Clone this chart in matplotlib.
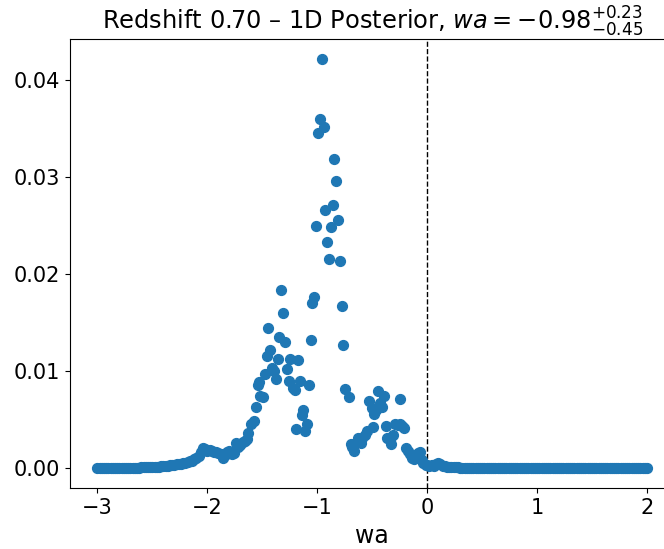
import numpy as np
import matplotlib
matplotlib.use("Agg")
import matplotlib.pyplot as plt

# ---- data ----
left_tail_wa = [-3.00, -2.98, -2.96, -2.94, -2.92, -2.90, -2.88, -2.86, -2.84, -2.82,
                -2.80, -2.78, -2.76, -2.74, -2.72, -2.70, -2.68, -2.66, -2.64, -2.62,
                -2.60, -2.58, -2.56, -2.54, -2.52, -2.50, -2.48, -2.46, -2.44, -2.42,
                -2.40, -2.38, -2.36, -2.34, -2.32, -2.30, -2.28, -2.26, -2.24, -2.22]
left_tail_p = [0.0, 0.0, 0.0, 0.0, 0.0, 0.0, 0.0, 0.0, 0.0, 0.0,
               0.0, 0.0, 0.0, 0.0, 0.0, 0.0, 0.0, 0.0, 0.0, 0.0,
               0.00005, 0.00005, 0.00005, 0.00008, 0.00008, 0.0001, 0.0001, 0.0001, 0.00012, 0.00015,
               0.00018, 0.0002, 0.00022, 0.00025, 0.0003, 0.0003, 0.00035, 0.0004, 0.00045, 0.0005]

shoulder_wa = [-2.20, -2.18, -2.16, -2.14, -2.12, -2.10, -2.08, -2.06, -2.04, -2.02,
               -2.00, -1.98, -1.96, -1.94, -1.92, -1.90, -1.88, -1.86, -1.84, -1.82,
               -1.80, -1.78, -1.76, -1.74, -1.72, -1.70, -1.68, -1.66, -1.64, -1.63]
shoulder_p = [0.0005, 0.0006, 0.0007, 0.0007, 0.0009, 0.0010, 0.0012, 0.0016, 0.0021, 0.0019,
              0.0017, 0.0018, 0.0017, 0.0016, 0.0016, 0.0015, 0.0014, 0.0010, 0.0013, 0.0016,
              0.0017, 0.0014, 0.0015, 0.0026, 0.0022, 0.0024, 0.0027, 0.0028, 0.0030, 0.0036]

core_wa = [-1.603, -1.579, -1.560, -1.542, -1.527, -1.518, -1.496, -1.475, -1.460, -1.445,
           -1.430, -1.409, -1.393, -1.375, -1.360, -1.348, -1.327, -1.309, -1.293, -1.278,
           -1.260, -1.248, -1.224, -1.202, -1.193, -1.175, -1.157, -1.142, -1.127, -1.108,
           -1.093, -1.075, -1.056, -1.045, -1.026, -1.008, -0.995, -0.974, -0.959, -0.941,
           -0.926, -0.911, -0.893, -0.874, -0.859, -0.844, -0.826, -0.808, -0.793, -0.774,
           -0.762, -0.744, -0.712, -0.695, -0.680, -0.665, -0.640, -0.626, -0.605, -0.589,
           -0.570, -0.549, -0.526, -0.504, -0.489, -0.480, -0.465, -0.444, -0.425, -0.407,
           -0.389, -0.373, -0.364, -0.337, -0.325, -0.307, -0.289, -0.270, -0.252, -0.243,
           -0.225, -0.207, -0.190, -0.179, -0.160, -0.139, -0.120, -0.100, -0.085, -0.070,
           -0.050, -0.034, -0.015]
core_p = [0.0045, 0.0048, 0.0063, 0.0085, 0.0088, 0.0074, 0.0073, 0.0097, 0.0115, 0.0144,
          0.0121, 0.0103, 0.0100, 0.0092, 0.0112, 0.0135, 0.0183, 0.0160, 0.0130, 0.0102,
          0.0090, 0.0112, 0.0082, 0.0080, 0.0040, 0.0111, 0.0090, 0.0054, 0.0060, 0.0038,
          0.0045, 0.0085, 0.0132, 0.0170, 0.0176, 0.0249, 0.0345, 0.0360, 0.0421, 0.0351,
          0.0266, 0.0233, 0.0215, 0.0248, 0.0271, 0.0318, 0.0296, 0.0256, 0.0213, 0.0167,
          0.0127, 0.0081, 0.0073, 0.0025, 0.0022, 0.0017, 0.0027, 0.0031, 0.0026, 0.0031,
          0.0034, 0.0038, 0.0069, 0.0062, 0.0042, 0.0056, 0.0060, 0.0079, 0.0067, 0.0063,
          0.0074, 0.0043, 0.0031, 0.0029, 0.0025, 0.0034, 0.0045, 0.0044, 0.0045, 0.0071,
          0.0043, 0.0041, 0.0020, 0.0017, 0.0014, 0.0010, 0.0009, 0.0012, 0.0015, 0.0016,
          0.0008, 0.0005, 0.0003]

right_tail_wa = [0.00, 0.02, 0.04, 0.06, 0.08, 0.10, 0.12, 0.14, 0.16, 0.18,
                 0.20, 0.22, 0.24, 0.26, 0.28, 0.30, 0.32, 0.34, 0.36, 0.38,
                 0.40, 0.42, 0.44, 0.46, 0.48, 0.50, 0.52, 0.54, 0.56, 0.58,
                 0.60, 0.62, 0.64, 0.66, 0.68, 0.70, 0.72, 0.74, 0.76, 0.78,
                 0.80, 0.82, 0.84, 0.86, 0.88, 0.90, 0.92, 0.94, 0.96, 0.98,
                 1.00, 1.02, 1.04, 1.06, 1.08, 1.10, 1.12, 1.14, 1.16, 1.18,
                 1.20, 1.22, 1.24, 1.26, 1.28, 1.30, 1.32, 1.34, 1.36, 1.38,
                 1.40, 1.42, 1.44, 1.46, 1.48, 1.50, 1.52, 1.54, 1.56, 1.58,
                 1.60, 1.62, 1.64, 1.66, 1.68, 1.70, 1.72, 1.74, 1.76, 1.78,
                 1.80, 1.82, 1.84, 1.86, 1.88, 1.90, 1.92, 1.94, 1.96, 1.98, 2.00]
right_tail_p = [0.0003, 0.0002, 0.0003, 0.0002, 0.0004, 0.0005, 0.0004, 0.0002, 0.0002, 0.0001,
                0.0001, 0.0001, 0.00005, 0.00005, 0.00005, 0.0, 0.0, 0.0, 0.0, 0.0,
                0.0, 0.0, 0.0, 0.0, 0.0, 0.0, 0.0, 0.0, 0.0, 0.0,
                0.0, 0.0, 0.0, 0.0, 0.0, 0.0, 0.0, 0.0, 0.0, 0.0,
                0.0, 0.0, 0.0, 0.0, 0.0, 0.0, 0.0, 0.0, 0.0, 0.0,
                0.0, 0.0, 0.0, 0.0, 0.0, 0.0, 0.0, 0.0, 0.0, 0.0,
                0.0, 0.0, 0.0, 0.0, 0.0, 0.0, 0.0, 0.0, 0.0, 0.0,
                0.0, 0.0, 0.0, 0.0, 0.0, 0.0, 0.0, 0.0, 0.0, 0.0,
                0.0, 0.0, 0.0, 0.0, 0.0, 0.0, 0.0, 0.0, 0.0, 0.0,
                0.0, 0.0, 0.0, 0.0, 0.0, 0.0, 0.0, 0.0, 0.0, 0.0, 0.0]

title_text = r'Redshift 0.70 – 1D Posterior, $wa = -0.98^{+0.23}_{-0.45}$'
x_label = 'wa'
reference_wa = 0.0

wa = np.array(left_tail_wa + shoulder_wa + core_wa + right_tail_wa)
post = np.array(left_tail_p + shoulder_p + core_p + right_tail_p)

fig = plt.figure(figsize=(6.64, 5.49), dpi=100)
ax = fig.add_axes([70 / 664, (549 - 488.3) / 549, (674.5 - 70) / 664, (488.3 - 39) / 549])
ax.scatter(wa, post, s=50, color='#1f77b4', zorder=2)
ax.axvline(reference_wa, color='black', linestyle='--', linewidth=1.0, zorder=1)
ax.set_title(title_text, fontsize=17.4)
ax.set_xlabel(x_label, fontsize=17)
ax.tick_params(labelsize=15)
ax.set_yticks([0.0, 0.01, 0.02, 0.03, 0.04])
fig.savefig('out.png', dpi=100)
